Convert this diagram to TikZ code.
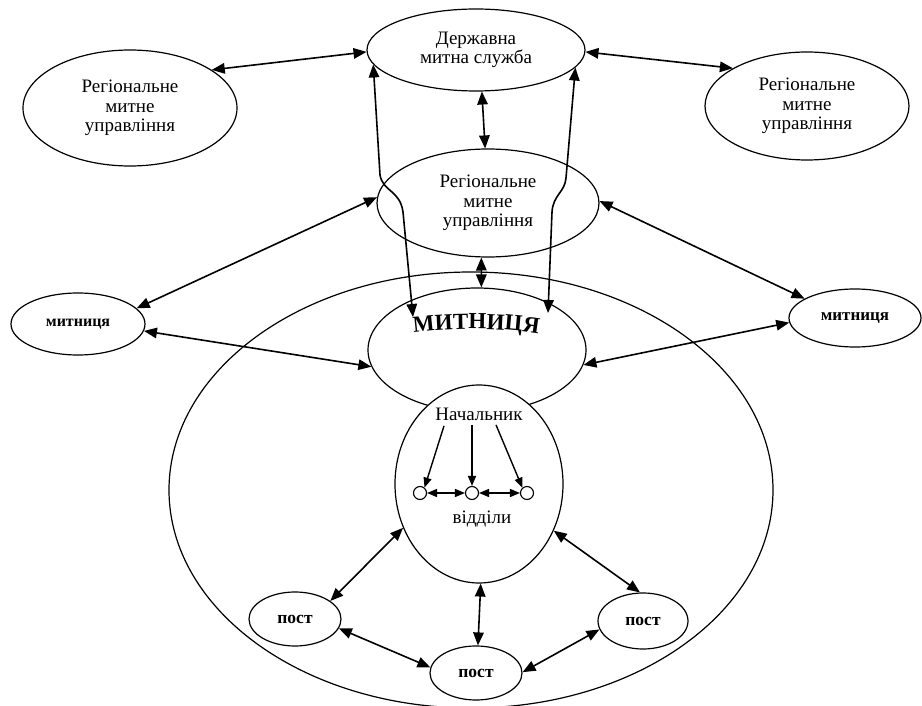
\documentclass[tikz,border=0pt]{standalone}
\usepackage{fontspec}
\setmainfont{Liberation Serif}
\usetikzlibrary{shapes.geometric,arrows.meta,decorations.text,calc}

\begin{document}
\begin{tikzpicture}[x=1pt,y=-1pt,
  oval/.style={draw,ellipse,line width=1.2pt,inner sep=0pt,align=center},
  big/.style={font=\fontsize{19}{19.5}\selectfont},
  tag/.style={font=\bfseries\fontsize{#1}{#1}\selectfont},
  link/.style={line width=1.6pt,>={Triangle[length=13pt,width=10.5pt]}},
  thin link/.style={line width=1.4pt,>={Triangle[length=10pt,width=8pt]}},
  dept/.style={draw,circle,line width=1.1pt,minimum size=13pt,inner sep=0pt}]

\clip (0,0) rectangle (922,706);

% top level
\node[oval,big,minimum width=218pt,minimum height=82pt] (dms) at (476,50) {Державна\\митна служба};
\node[oval,big,minimum width=214pt,minimum height=116pt] (regL) at (130,108) {Регіональне\\митне\\управління};
\node[oval,big,minimum width=204pt,minimum height=108pt] (regR) at (807,106) {Регіональне\\митне\\управління};
\node[oval,big,minimum width=222pt,minimum height=108pt] (regM) at (488,203) {Регіональне\\митне\\управління};

% customs houses
\node[oval,tag=16,minimum width=134pt,minimum height=62pt] (custL) at (78,324) {митниця};
\node[oval,tag=17,minimum width=132pt,minimum height=58pt] (custR) at (855,318) {митниця};

% the customs house and its structure
\node[oval,minimum width=604pt,minimum height=436pt] (area) at (471,490) {};
\node[oval,minimum width=218pt,minimum height=124pt] (inner) at (477,350) {};
\node[oval,fill=white,minimum width=168pt,minimum height=198pt] (head) at (479,484) {};

% arched title of the customs house
\path[decorate,decoration={text along path,text align=center,
  text={|\bfseries\fontsize{23}{23}\selectfont|МИТНИЦЯ}}]
  (404,334) .. controls (440,327) and (512,327) .. (548,336);

\node[big,anchor=base] (boss) at (479,420) {Начальник};
\node[big,anchor=base] (depts) at (482,523) {відділи};
\node[dept] (d1) at (420,493) {};
\node[dept] (d2) at (472,493) {};
\node[dept] (d3) at (527,493) {};

% posts
\node[oval,tag=17.5,minimum width=92pt,minimum height=54pt] (postL) at (295,619) {пост};
\node[oval,tag=17.5,minimum width=92pt,minimum height=54pt] (postM) at (476,673) {пост};
\node[oval,tag=17.5,minimum width=90pt,minimum height=56pt] (postR) at (643,621) {пост};

% ends of the two long connectors
\coordinate (tL) at (413,317);
\coordinate (tR) at (548,313);

% connectors
\draw[link,<->] (regL.25.8) -- (dms.181);
\draw[link,<->] (regR.153.2) -- (dms.-1);
\draw[link,<->] (dms.-82) -- (regM.93);
\draw[link,<->] (regM.-97) -- (inner.86);
\draw[link,<->] (regM.177.4) -- (custL.15.6);
\draw[link,<->] (regM.1.5) -- (custR.159);
\draw[link,<->] (custL.-6.7) -- (inner.189);
\draw[link,<->] (custR.184.3) -- (inner.-8.3);

\draw[link,<->] (dms.188) -- (380,175) .. controls (383,192) and (400,190) .. (403,212) -- (tL);
\draw[link,<->] (dms.-10) -- (566,178) .. controls (565,192) and (553,195) .. (552,212) -- (tR);

\draw[thin link,->] ($(boss.center)+(-35,12)$) -- (d1.50);
\draw[thin link,->] ($(boss.center)+(-7,11)$) -- (d2.north);
\draw[thin link,->] ($(boss.center)+(17,11)$) -- (d3.131);
\draw[thin link,<->] (d1.east) -- (d2.west);
\draw[thin link,<->] (d2.east) -- (d3.west);

\draw[link,<->] (head.210.8) -- (postL.27.2);
\draw[link,<->] (head.-32.7) -- (postR.96);
\draw[link,<->] (head.-89.3) -- (postM.86);
\draw[link,<->] (postL.-12.9) -- (postM.173);
\draw[link,<->] (postM.1.2) -- (postR.191.3);
\end{tikzpicture}
\end{document}
